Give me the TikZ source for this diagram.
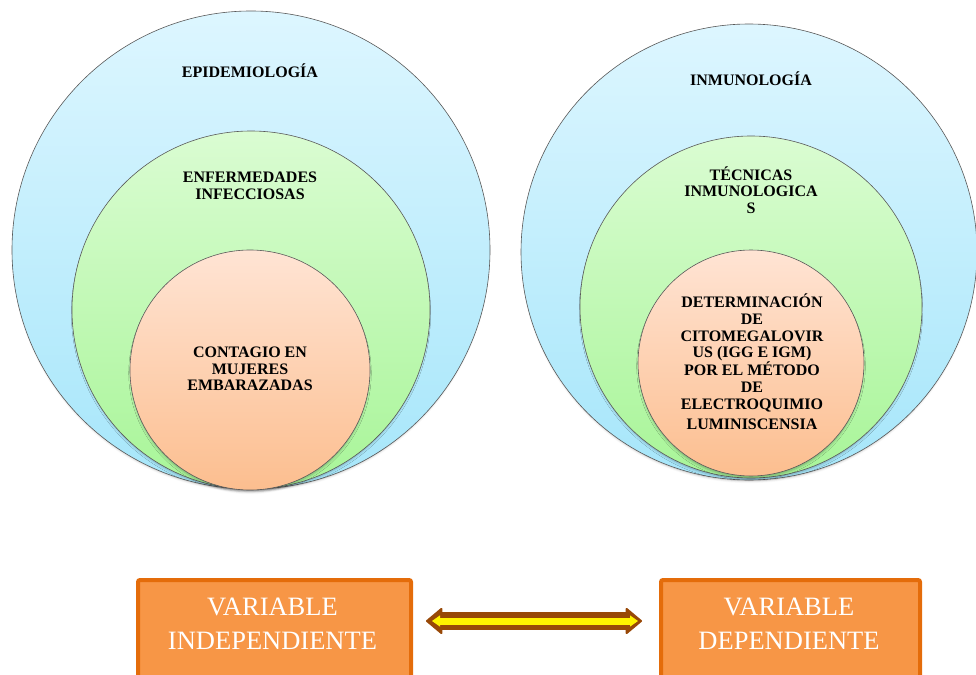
\documentclass[tikz,border=0pt]{standalone}
\usepackage{fontspec}
\setmainfont{Liberation Serif}
\usetikzlibrary{arrows.meta,positioning,shadows.blur}
\definecolor{skytop}{RGB}{221,246,255}
\definecolor{skybot}{RGB}{166,230,250}
\definecolor{leaftop}{RGB}{218,252,210}
\definecolor{leafbot}{RGB}{168,245,152}
\definecolor{peachtop}{RGB}{255,228,212}
\definecolor{peachbot}{RGB}{252,190,143}
\definecolor{boxfill}{RGB}{247,150,70}
\definecolor{boxline}{RGB}{228,108,10}
\definecolor{arrowbrown}{RGB}{152,72,7}

\begin{document}
\begin{tikzpicture}[x=1pt, y=-1pt,
  ring/.style={circle, draw=black!65, line width=0.6pt, inner sep=0pt,
    blur shadow={shadow xshift=0pt, shadow yshift=-3pt, shadow scale=0.99, shadow blur radius=2.5pt, shadow opacity=30}},
  bigring/.style={ring, top color=skytop, bottom color=skybot},
  midring/.style={ring, top color=leaftop, bottom color=leafbot},
  smallring/.style={ring, top color=peachtop, bottom color=peachbot},
  lbl/.style={font=\bfseries\fontsize{16}{16.7}\selectfont, align=center, inner sep=0pt},
  varbox/.style={rectangle, rounded corners=2pt, draw=boxline, fill=boxfill, line width=4pt,
    minimum height=130pt, inner sep=0pt, anchor=north west},
  vartext/.style={font=\fontsize{26.5}{34}\selectfont, text=white, align=center, inner sep=0pt},
  linkout/.style={line width=18pt, draw=arrowbrown,
    {Triangle[length=17pt, width=28pt, line width=2pt, round]}-{Triangle[length=17pt, width=28pt, line width=2pt, round]},
    shorten <=13pt, shorten >=17pt},
  linkin/.style={line width=7pt, draw=yellow,
    {Triangle[length=8pt, width=11pt, line width=1pt]}-{Triangle[length=8pt, width=11pt, line width=1pt]},
    shorten <=19pt, shorten >=21pt}]
\useasboundingbox (0,0) rectangle (976,674);

% left group
\node[bigring, minimum size=478pt] (epi) at (251,250) {};
\node[midring, minimum size=358pt] (infec) at (251,310) {};
\node[smallring, minimum size=240pt] (contagio) at (250,370) {};
\node[lbl] (epitxt) at (250,71) {EPIDEMIOLOGÍA};
\node[lbl] (infectxt) at (250,186) {ENFERMEDADES\\INFECCIOSAS};
\node[lbl] (contagiotxt) at (250,369) {CONTAGIO EN\\MUJERES\\EMBARAZADAS};

% right group
\node[bigring, minimum size=456pt] (inmuno) at (749,252) {};
\node[midring, minimum size=342pt] (tecnicas) at (751,307) {};
\node[smallring, minimum size=226pt] (determ) at (751,363) {};
\node[lbl] (inmunotxt) at (751,79) {INMUNOLOGÍA};
\node[lbl] (tecnicastxt) at (751,190) {TÉCNICAS\\INMUNOLOGICA\\S};
\node[lbl] (determtxt) at (752,362) {DETERMINACIÓN\\DE\\CITOMEGALOVIR\\US (IGG E IGM)\\POR EL MÉTODO\\DE\\ELECTROQUIMIO\\[4pt]LUMINISCENSIA};

% variables
\node[varbox, minimum width=273pt] (indep) at (136,578) {};
\node[varbox, minimum width=259pt] (dep) at (659,578) {};
\node[vartext] (indeptxt) at (272.5,624) {VARIABLE\\INDEPENDIENTE};
\node[vartext] (deptxt) at (789,624) {VARIABLE\\DEPENDIENTE};

\draw[linkout] ([yshift=24pt]indep.east) -- ([yshift=24pt]dep.west);
\draw[linkin] ([yshift=24pt]indep.east) -- ([yshift=24pt]dep.west);
\end{tikzpicture}
\end{document}
